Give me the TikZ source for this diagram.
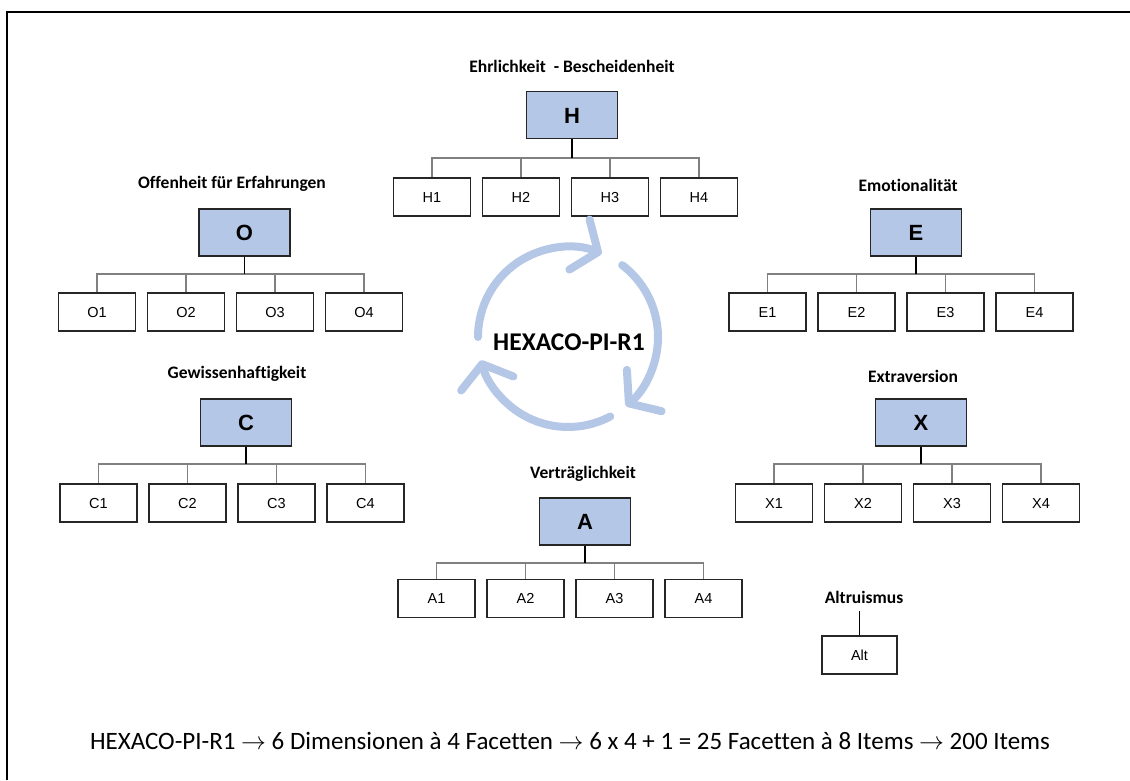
\documentclass[tikz,border=0pt]{standalone}
\usepackage{fontspec}
\setmainfont{Carlito}[Ligatures=NoCommon]
\newfontfamily\boxfont{Liberation Sans}
\usetikzlibrary{positioning,arrows.meta}
\definecolor{dimblue}{HTML}{B4C7E7}

\begin{document}
\begin{tikzpicture}[x=1pt,y=-1pt]
  \tikzset{
    dimbox/.style={draw=black!85, line width=1.3pt, fill=dimblue, minimum width=91pt, minimum height=47pt, text height=16pt, text depth=0pt, font=\boxfont\bfseries\fontsize{22}{26}\selectfont},
    facetbox/.style={draw=black!85, line width=1.1pt, minimum width=77pt, minimum height=38pt, text height=10.5pt, text depth=0pt, font=\boxfont\fontsize{14.5}{17}\selectfont},
    dimlabel/.style={font=\bfseries\fontsize{17.5}{20}\selectfont},
    stem/.style={line width=1.6pt},
    branch/.style={draw=gray, line width=1.2pt},
    cyclearrow/.style={draw=dimblue, line width=8pt, line cap=round, -{Straight Barb[length=20pt,width=54pt,round]}}
  }
  \useasboundingbox (0,0) rectangle (1130,780);
  \draw[line width=2pt] (7,780) |- (1130,12);
  % six dimensions with four facets each
  \foreach \dm/\lbl/\bx/\by/\lx/\ly/\fx/\fy/\bar in {
    H/{Ehrlichkeit\ \ - Bescheidenheit}/572/115/572/66/432/197/158,
    O/{Offenheit für Erfahrungen}/244.5/232.5/232/184/97/312/274,
    E/{Emotionalität}/916/232.5/908/185/767.5/312/274,
    C/{Gewissenhaftigkeit}/246/422.5/237/374/98.5/503/464,
    X/{Extraversion}/921/422.5/913/376/774/503/464,
    A/{Verträglichkeit}/585/521.5/583/474/436.5/598.5/563}
  {
    \node[dimbox] (\dm) at (\bx,\by) {\dm};
    \node[dimlabel] (\dm-lbl) at (\lx,\ly) {\lbl};
    \coordinate (\dm-bar) at (\bx,\bar);
    \foreach \i in {1,...,4} {
      \node[facetbox] (\dm\i) at ({\fx+89*(\i-1)},\fy) {\dm\i};
      \draw[branch] (\dm-bar) -| (\dm\i.north);
    }
    \draw[stem] (\dm) -- (\dm-bar);
  }
  % Altruismus
  \node[dimlabel] (alt-lbl) at (864,597) {Altruismus};
  \node[facetbox, minimum width=75pt] (alt) at (859.5,655) {Alt};
  \draw[line width=1.2pt, shorten >=4pt] (alt.north) -- (alt.north |- alt-lbl.south);
  % cycle in the middle
  \coordinate (cyc) at (568,337);
  \draw[cyclearrow] (cyc) ++(-180:90) arc[start angle=-180, end angle=-68, radius=90];
  \draw[cyclearrow] (cyc) ++(-53:90) arc[start angle=-53, end angle=50, radius=90];
  \draw[cyclearrow] (cyc) ++(62:90) arc[start angle=62, end angle=165, radius=90];
  \node[font=\bfseries\fontsize{25.5}{30}\selectfont] (hexaco) at (569,342) {HEXACO-PI-R1};
  \node[font=\fontsize{25}{30}\selectfont] (summary) at (570,741) {HEXACO-PI-R1 $\rightarrow$ 6 Dimensionen à 4 Facetten $\rightarrow$ 6 x 4 + 1 = 25 Facetten à 8 Items $\rightarrow$ 200 Items};
\end{tikzpicture}
\end{document}
